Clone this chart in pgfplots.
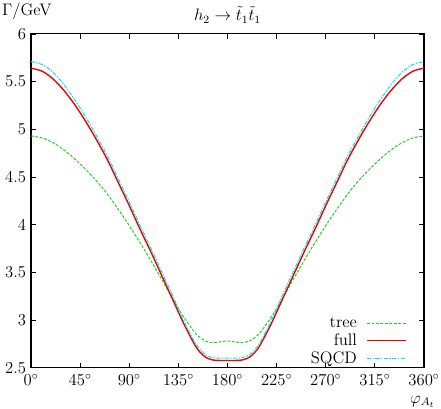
\documentclass[border=0pt]{standalone}
\usepackage{pgfplots}
\pgfplotsset{compat=1.18}

\definecolor{treegreen}{RGB}{20,215,20}
\definecolor{fullred}{RGB}{240,0,0}
\definecolor{sqcdcyan}{RGB}{0,230,240}

\begin{document}
\begin{tikzpicture}[font=\fontsize{12}{14}\selectfont]
\begin{axis}[
  scale only axis,
  width=282.6pt, height=240pt,
  xmin=0, xmax=360, ymin=2.5, ymax=6,
  clip mode=individual,
  xtick={0,45,...,360},
  xticklabels={$0^\circ$,$45^\circ$,$90^\circ$,$135^\circ$,$180^\circ$,$225^\circ$,$270^\circ$,$315^\circ$,$360^\circ$},
  ytick={2.5,3,...,6},
  tick align=inside,
  major tick length=3.6pt,
  tick style={black, line width=0.6pt},
  axis line style={line width=0.8pt},
  xticklabel style={yshift=-1pt},
  legend cell align=right,
  legend plot pos=right,
  legend style={draw=none, fill=none, at={(0.967,-0.01)}, anchor=south east,
    row sep=-1.2pt},
  legend image code/.code={\path (0cm,0cm); \draw[#1] (0.17cm,0cm) -- (1.15cm,0cm);},
]
% tree
\addplot[color=treegreen, line width=0.7pt, dash pattern=on 2pt off 1.2pt, smooth] coordinates {
(0,4.93) (10,4.91) (20,4.86) (30,4.785) (40,4.69) (50,4.58) (60,4.46) (70,4.32)
(80,4.16) (90,3.99) (100,3.81) (110,3.62) (120,3.42) (130,3.22) (140,3.03)
(150,2.87) (155,2.815) (160,2.78) (165,2.765) (170,2.765) (175,2.775) (180,2.78)
(185,2.775) (190,2.765) (195,2.765) (200,2.78) (205,2.815) (210,2.87) (220,3.03)
(230,3.22) (240,3.42) (250,3.62) (260,3.81) (270,3.99) (280,4.16) (290,4.32)
(300,4.46) (310,4.58) (320,4.69) (330,4.785) (340,4.86) (350,4.91) (360,4.93)
};
\addlegendentry{tree}
% full
\addplot[color=fullred, line width=1.0pt, smooth] coordinates {
(0,5.64) (10,5.61) (20,5.53) (30,5.41) (40,5.26) (50,5.085) (60,4.89) (70,4.68)
(80,4.44) (90,4.20) (100,3.95) (110,3.71) (120,3.46) (130,3.21) (140,2.96)
(150,2.74) (155,2.66) (160,2.61) (165,2.585) (170,2.577) (180,2.575)
(190,2.577) (195,2.585) (200,2.61) (205,2.66) (210,2.74) (220,2.96)
(230,3.21) (240,3.46) (250,3.71) (260,3.95) (270,4.20) (280,4.44) (290,4.68)
(300,4.89) (310,5.085) (320,5.26) (330,5.41) (340,5.53) (350,5.61) (360,5.64)
};
\addlegendentry{full}
% SQCD
\addplot[color=sqcdcyan, line width=0.7pt, dash pattern=on 3pt off 1pt on 1pt off 1pt, smooth] coordinates {
(0,5.71) (10,5.68) (20,5.60) (30,5.47) (40,5.31) (50,5.13) (60,4.93) (70,4.72)
(80,4.48) (90,4.24) (100,3.99) (110,3.75) (120,3.50) (130,3.25) (140,2.99)
(150,2.77) (155,2.69) (160,2.635) (165,2.61) (170,2.602) (180,2.60)
(190,2.602) (195,2.61) (200,2.635) (205,2.69) (210,2.77) (220,2.99)
(230,3.25) (240,3.50) (250,3.75) (260,3.99) (270,4.24) (280,4.48) (290,4.72)
(300,4.93) (310,5.13) (320,5.31) (330,5.47) (340,5.60) (350,5.68) (360,5.71)
};
\addlegendentry{SQCD}
\node at (rel axis cs:0.5,1) [yshift=13.7pt] {$h_2\to\tilde t_1\tilde t_1$};
\node at (rel axis cs:0,1) [xshift=-3pt, yshift=16.5pt] {$\Gamma/$GeV};
\node at (rel axis cs:1,0) [xshift=-1pt, yshift=-24.4pt] {$\varphi_{A_t}$};
\end{axis}
\pgfresetboundingbox
\path[use as bounding box] (-22.3pt,-29.5pt) rectangle (294.8pt,264.4pt);
\end{tikzpicture}
\end{document}
